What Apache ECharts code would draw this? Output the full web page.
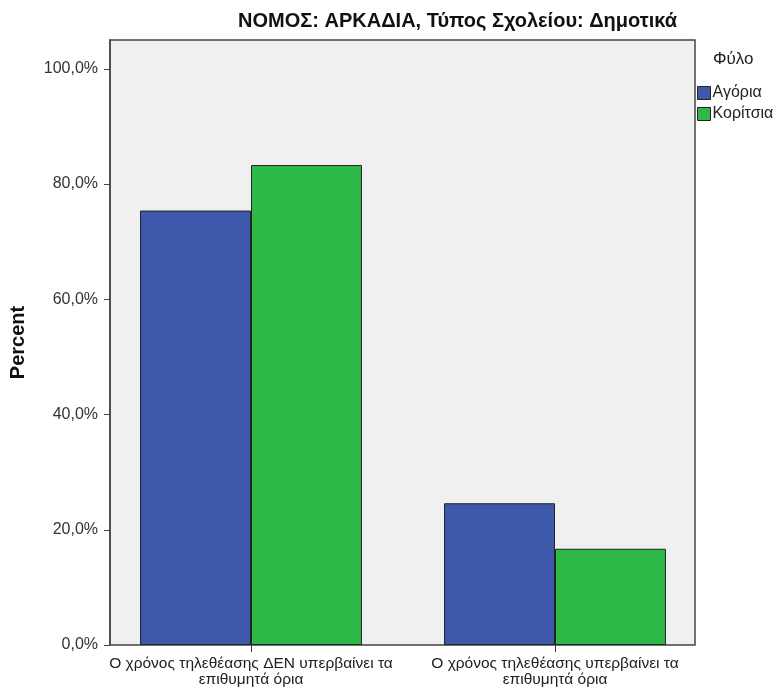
<!DOCTYPE html>
<html>
<head>
<meta charset="utf-8">
<script src="https://cdn.jsdelivr.net/npm/echarts@6/dist/echarts.min.js"></script>
<style>
html,body{margin:0;padding:0;background:#fff;}
#chart{width:777px;height:691px;}
</style>
</head>
<body>
<div id="chart"></div>
<script>
var categories = ['Ο χρόνος τηλεθέασης ΔΕΝ υπερβαίνει τα\nεπιθυμητά όρια', 'Ο χρόνος τηλεθέασης υπερβαίνει τα\nεπιθυμητά όρια'];
var seriesNames = ['Αγόρια', 'Κορίτσια'];
var boys = [75.4, 24.6];
var girls = [83.3, 16.7];
var yTicks = [0, 20, 40, 60, 80, 100];

var FONT = '"Liberation Sans", Arial, sans-serif';
var chart = echarts.init(document.getElementById('chart'));
chart.setOption({
  animation: false,
  backgroundColor: '#ffffff',
  textStyle: {fontFamily: FONT},
  title: [
    {text: 'ΝΟΜΟΣ: ΑΡΚΑΔΙΑ, Τύπος Σχολείου: Δημοτικά', right: 100, top: 11, padding: 0,
     textStyle: {fontFamily: FONT, fontSize: 20, fontWeight: 'bold', color: '#111'}},
    {text: 'Φύλο', left: 713, top: 51, padding: 0,
     textStyle: {fontFamily: FONT, fontSize: 17, fontWeight: 'normal', color: '#222'}}
  ],
  legend: {
    orient: 'vertical', left: 697, top: 85, padding: 0,
    itemWidth: 13, itemHeight: 13, itemGap: 5,
    icon: 'rect',
    itemStyle: {borderColor: '#222', borderWidth: 1},
    textStyle: {fontFamily: FONT, fontSize: 16, lineHeight: 14, color: '#222', padding: [0,0,0,-3]},
    data: seriesNames
  },
  grid: [
    {left: 110, right: 82, top: 40, bottom: 46, show: true, backgroundColor: '#f0f0f0', borderColor: '#444', borderWidth: 1.5},
    {left: 99, right: 70, top: 40, bottom: 46}
  ],
  xAxis: [
    {gridIndex: 0, type: 'value', min: 0, max: 1, show: false},
    {gridIndex: 1, type: 'category', data: categories,
     axisLine: {show: false},
     axisTick: {show: true, alignWithLabel: true, length: 7, lineStyle: {color: '#333'}},
     axisLabel: {interval: 0, hideOverlap: false, fontFamily: FONT, fontSize: 15.5, color: '#222', lineHeight: 16, margin: 11}}
  ],
  yAxis: [
    {gridIndex: 0, type: 'value', min: 0, max: 105, interval: 20,
     name: 'Percent', nameLocation: 'middle', nameGap: 82,
     nameTextStyle: {fontFamily: FONT, fontSize: 20, fontWeight: 'bold', color: '#111'},
     splitLine: {show: false},
     axisLine: {show: true, lineStyle: {color: '#444', width: 1.5}},
     axisTick: {show: true, length: 6, lineStyle: {color: '#444'}},
     axisLabel: {fontFamily: FONT, fontSize: 16, color: '#333', margin: 12, showMaxLabel: false,
       formatter: function (v) { return yTicks.indexOf(v) >= 0 ? v.toFixed(1).replace('.', ',') + '%' : ''; }}},
    {gridIndex: 1, type: 'value', min: 0, max: 105, show: false}
  ],
  series: [
    {name: seriesNames[0], type: 'bar', xAxisIndex: 1, yAxisIndex: 1, data: boys,
     barGap: '0%', barCategoryGap: '27%',
     itemStyle: {color: '#3e58ac', borderColor: '#222', borderWidth: 1}},
    {name: seriesNames[1], type: 'bar', xAxisIndex: 1, yAxisIndex: 1, data: girls,
     barGap: '0%', barCategoryGap: '27%',
     itemStyle: {color: '#2eb848', borderColor: '#222', borderWidth: 1}}
  ]
});
</script>
</body>
</html>
